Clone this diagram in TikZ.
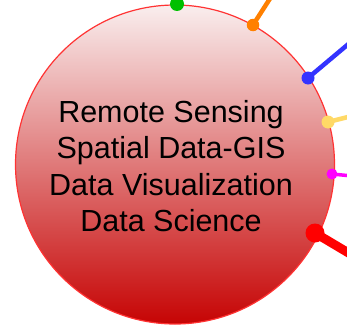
\documentclass[tikz,border=0pt]{standalone}
\usepackage{fontspec}
\setmainfont{Liberation Sans}
\definecolor{ringred}{HTML}{FF3333}
\definecolor{topfill}{HTML}{F9EEEE}
\definecolor{botfill}{HTML}{C60404}
\definecolor{dgreen}{HTML}{00C000}
\definecolor{dorange}{HTML}{FF8000}
\definecolor{dblue}{HTML}{3333FF}
\definecolor{dyellow}{HTML}{FFD966}
\definecolor{dmagenta}{HTML}{FF00FF}
\definecolor{dred}{HTML}{FF0000}
\tikzset{
  dot/.style={circle,inner sep=0pt,minimum size=#1},
  spoke/.style={line cap=round}
}
\begin{document}
\begin{tikzpicture}[x=1pt,y=-1pt]
\useasboundingbox (0,0) rectangle (347,332);
\clip (0,0) rectangle (347,332);
\node[circle,minimum size=319pt,inner sep=0pt,draw=ringred,line width=1.2pt,
      top color=topfill,bottom color=botfill] (main) at (175,164.5) {};
\node[align=center,font=\fontsize{30.5}{36.5}\selectfont] (txt) at (171,166)
  {Remote Sensing\\Spatial Data-GIS\\Data Visualization\\Data Science};
% spoke ends and dot positions
\coordinate (eo) at (271,-3);
\coordinate (eb) at (352,41);
\coordinate (ey) at (352,116);
\coordinate (em) at (352,176);
\coordinate (er) at (352,255);
\coordinate (po) at (253,25);
\coordinate (pb) at (308,78);
\coordinate (py) at (328,122);
\coordinate (pm) at (332,174);
\coordinate (pr) at (315,233);
\draw[spoke,dorange,line width=4.5pt] (po) -- (eo);
\draw[spoke,dblue,line width=4.5pt] (pb) -- (eb);
\draw[spoke,dyellow,line width=4.5pt] (py) -- (ey);
\draw[spoke,dmagenta,line width=3.5pt] (pm) -- (em);
\draw[spoke,dred,line width=9pt] (pr) -- (er);
\node[dot=12.5pt,fill=dorange] (o) at (po) {};
\node[dot=13pt,fill=dblue] (b) at (pb) {};
\node[dot=13pt,fill=dyellow] (y) at (py) {};
\node[dot=11pt,fill=dmagenta] (m) at (pm) {};
\node[dot=19pt,fill=dred] (r) at (pr) {};
\node[dot=14pt,fill=dgreen] (g) at (177,4) {};
\end{tikzpicture}
\end{document}
